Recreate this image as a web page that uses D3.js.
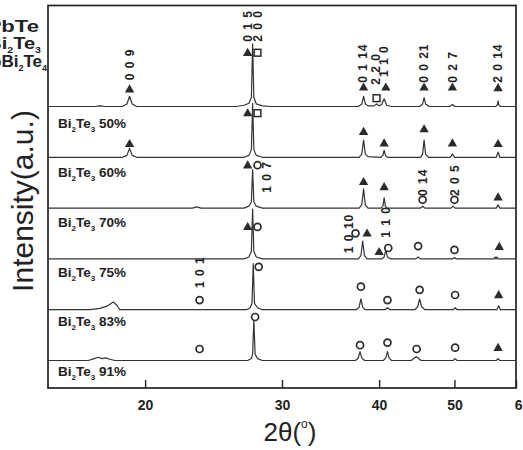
<!DOCTYPE html>
<html>
<head>
<meta charset="utf-8">
<script src="https://cdn.jsdelivr.net/npm/d3@7/dist/d3.min.js"></script>
<style>
  body { margin: 0; background: #fff; }
  svg { display: block; font-family: "Liberation Sans", Arial, sans-serif; }
</style>
</head>
<body>
<svg id="chart" width="523" height="450"></svg>
<script>
// ---- 2θ axis ----
const tickValues = [20, 30, 40, 50, 60];

// ---- sample captions, top to bottom (first pattern has no caption) ----
const sampleLabels = [null, "50%", "60%", "70%", "75%", "83%", "91%"];

// ---- phase legend: [prefix, "Te", Te subscript, Bi subscript] ----
const phaseNames = [["Pb", "Te", null, null], ["Bi", "Te", "3", "2"], ["PbBi", "Te", "4", "2"]];

// ---- diffraction patterns: [2θ (deg), intensity (a.u.)] ----
const pattern0 = [
  [15, 0], [17.2, 0], [17.5, 1], [17.8, 0],
  [18.7, 0], [18.95, 4], [19.1, 16], [19.25, 4], [19.5, 0],
  [26.2, 0], [26.8, 2], [27.2, 5], [27.4, 14], [27.5, 98], [27.6, 14], [27.8, 4], [28.3, 1], [29, 0],
  [37.6, 0], [38.0, 4], [38.2, 16], [38.4, 4], [38.7, 1], [39.4, 1], [39.7, 4], [40.0, 1],
  [40.3, 3], [40.6, 12], [40.9, 2], [41.5, 0],
  [45.1, 0], [45.5, 4], [45.7, 14], [45.9, 4], [46.4, 0],
  [49.3, 0], [49.7, 3], [50.1, 0],
  [56.5, 0], [56.8, 3], [56.9, 9], [57.0, 3], [57.3, 0], [60, 0]
];
const pattern50 = [
  [15, 0], [18.7, 0], [18.95, 3], [19.1, 14], [19.25, 3], [19.5, 0],
  [26.8, 0], [27.2, 3], [27.4, 12], [27.5, 84], [27.6, 12], [27.8, 3], [28.3, 0],
  [37.7, 0], [38.0, 5], [38.2, 27], [38.4, 5], [38.7, 1],
  [40.2, 0], [40.45, 3], [40.6, 11], [40.75, 3], [41.0, 0],
  [45.2, 0], [45.5, 5], [45.7, 27], [45.9, 5], [46.3, 0],
  [49.4, 0], [49.7, 5], [50.0, 0],
  [56.6, 0], [56.9, 8], [57.2, 0], [60, 0]
];
const pattern60 = [
  [15, 0], [23.0, 0], [23.3, 2], [23.6, 0],
  [26.8, 0], [27.2, 3], [27.4, 10], [27.5, 60], [27.6, 10], [27.8, 3], [28.3, 0],
  [37.7, 0], [38.0, 5], [38.2, 30], [38.4, 5], [38.7, 0],
  [40.2, 0], [40.45, 3], [40.6, 16], [40.75, 3], [41.0, 0],
  [45.2, 0], [45.5, 3], [45.8, 0],
  [49.5, 0], [49.8, 3], [50.1, 0],
  [56.6, 0], [56.9, 5], [57.2, 0], [60, 0]
];
const pattern70 = [
  [15, 0],
  [26.8, 0], [27.2, 3], [27.4, 12], [27.5, 78], [27.6, 12], [27.8, 3], [28.3, 0],
  [37.6, 0], [37.9, 5], [38.1, 28], [38.3, 5], [38.6, 0],
  [40.3, 0], [40.6, 3], [40.8, 14], [41.0, 3], [41.4, 0],
  [44.6, 0], [44.9, 3], [45.2, 0],
  [49.7, 0], [50.0, 2], [50.3, 0],
  [56.2, 0], [56.4, 3], [56.55, 0], [56.7, 3], [56.9, 0], [60, 0]
];
const pattern75 = [
  [15, 0], [17.0, 0], [17.5, 2], [17.9, 6], [18.2, 12], [18.4, 7], [18.55, 0],
  [27.0, 0], [27.3, 3], [27.45, 10], [27.55, 72], [27.65, 10], [27.9, 3], [28.3, 0],
  [37.4, 0], [37.7, 4], [37.9, 17], [38.1, 4], [38.4, 0],
  [40.7, 0], [41.0, 3], [41.3, 0],
  [44.5, 0], [44.85, 5], [45.1, 17], [45.35, 5], [45.8, 0],
  [49.8, 0], [50.1, 3], [50.4, 0],
  [56.7, 0], [57.0, 6], [57.3, 0], [60, 0]
];
const pattern83 = [
  [15, 0], [16.9, 0], [17.2, 3], [17.4, 5], [17.6, 3], [17.8, 4], [18.0, 2], [18.3, 0],
  [27.1, 0], [27.4, 3], [27.5, 10], [27.6, 64], [27.7, 10], [27.9, 3], [28.3, 0],
  [37.3, 0], [37.6, 4], [37.8, 14], [38.0, 4], [38.3, 0],
  [40.5, 0], [40.8, 4], [41.0, 14], [41.2, 4], [41.5, 0],
  [44.0, 0], [44.4, 4], [44.65, 6], [44.9, 4], [45.3, 0],
  [49.8, 0], [50.1, 3], [50.4, 0],
  [56.6, 0], [56.9, 3], [57.2, 0], [60, 0]
];
const patterns = [pattern0, pattern50, pattern60, pattern70, pattern75, pattern83];

// ---- phase markers: [2θ, intensity level, phase] ----
const TRI = "PbBi2Te4", CIR = "Bi2Te3", SQR = "PbTe";
const markers0 = [[19.1, 27, TRI], [27.1, 84, TRI], [27.9, 84, SQR], [38.2, 30, TRI], [39.7, 13, SQR],
  [40.8, 30, TRI], [45.7, 30, TRI], [49.7, 30, TRI], [56.9, 29, TRI]];
const markers50 = [[19.1, 21, TRI], [27.1, 69, TRI], [27.9, 69, SQR], [38.2, 40, TRI], [40.6, 22, TRI],
  [45.7, 44, TRI], [49.7, 22, TRI], [56.9, 21, TRI]];
const markers60 = [[27.1, 67, TRI], [27.9, 67, CIR], [38.2, 41, TRI], [40.6, 33, TRI], [45.5, 13, CIR],
  [50.0, 13, CIR], [56.9, 17, TRI]];
const markers70 = [[27.1, 50, TRI], [27.9, 50, CIR], [37.3, 40, CIR], [38.6, 40, TRI], [40.0, 11, TRI],
  [41.1, 17, CIR], [44.9, 20, CIR], [50.0, 14, CIR], [57.1, 19, TRI]];
const markers75 = [[23.5, 15, CIR], [28.0, 67, CIR], [37.9, 36, CIR], [41.0, 15, CIR], [45.1, 31, CIR],
  [50.1, 23, CIR], [57.0, 23, TRI]];
const markers83 = [[23.5, 18, CIR], [27.7, 68, CIR], [37.8, 24, CIR], [41.0, 28, CIR], [44.7, 18, CIR],
  [50.1, 20, CIR], [56.9, 20, TRI]];
const markers = [markers0, markers50, markers60, markers70, markers75, markers83];

// ---- Miller indices: [2θ, intensity level at text start, hkl] ----
const hkl0 = [[19.1, 41, "0 0 9"], [27.1, 101, "0 1 5"], [27.9, 101, "2 0 0"], [38.1, 37, "0 1 14"],
  [39.6, 34, "2 2 0"], [40.6, 46, "1 1 0"], [45.7, 37, "0 0 21"], [49.7, 37, "0 2 7"], [56.9, 37, "2 0 14"]];
const hkl60 = [[28.7, 24, "1 0 7"], [45.5, 19, "0 14"], [50.0, 19, "2 0 5"]];
const hkl70 = [[36.5, 9, "1 0 10"], [40.8, 33, "1 1 0"]];
const hkl75 = [[23.5, 34, "1 0 1"]];
const hkls = [hkl0, [], hkl60, hkl70, hkl75, []];

// ---- layout ----
const plot = { left: 48, right: 516, top: 5.5, bottom: 388 };
const ink = "#222";

const svg = d3.select("#chart");

const x = d3.scaleLog().domain([15, 60]).range([plot.left, plot.right]);
const baseline = d3.scaleLinear().domain([0, 5]).range([106.5, 360.5]);
const captionY = d3.scaleLinear().domain([1, 6]).range([127.5, 376]);
const yFor = i => d3.scaleLinear().domain([0, 100]).range([baseline(i), baseline(i) - 64]);

// frame
svg.append("rect")
  .attr("x", plot.left).attr("y", plot.top)
  .attr("width", plot.right - plot.left).attr("height", plot.bottom - plot.top)
  .attr("fill", "none").attr("stroke", ink).attr("stroke-width", 1.7);

// bottom axis with inward ticks
const axis = svg.append("g")
  .attr("transform", `translate(0,${plot.bottom})`)
  .call(d3.axisBottom(x).tickValues(tickValues).tickFormat(d3.format("d")).tickSize(-8).tickPadding(12));
axis.select(".domain").remove();
axis.selectAll(".tick line").attr("stroke", ink).attr("stroke-width", 1.4);
axis.selectAll(".tick text")
  .attr("fill", ink).attr("font-size", 14).attr("font-weight", "bold")
  .attr("font-family", "Liberation Sans, Arial, sans-serif");
axis.selectAll(".tick text").filter(d => d === 60).attr("dx", 6);

// patterns, clipped to the frame
svg.append("clipPath").attr("id", "plotClip")
  .append("rect").attr("x", plot.left).attr("y", plot.top)
  .attr("width", plot.right - plot.left).attr("height", plot.bottom - plot.top);

const traces = svg.append("g").attr("clip-path", "url(#plotClip)");
patterns.forEach((pts, i) => {
  const y = yFor(i);
  const line = d3.line().x(d => x(d[0])).y(d => y(d[1]));
  traces.append("path")
    .attr("d", line(pts))
    .attr("fill", "none").attr("stroke", "#333").attr("stroke-width", 1.2)
    .attr("stroke-linejoin", "round");
});

// phase markers
const tri = d3.symbol().type(d3.symbolTriangle).size(38);
markers.forEach((list, i) => {
  const y = yFor(i);
  const g = svg.append("g");
  list.forEach(([t, lvl, phase]) => {
    const cx = x(t), cy = y(lvl);
    if (phase === TRI) {
      g.append("path").attr("d", tri()).attr("transform", `translate(${cx},${cy + 0.5})`)
        .attr("fill", "#2b2b2b");
    } else if (phase === CIR) {
      g.append("circle").attr("cx", cx).attr("cy", cy).attr("r", 3.5)
        .attr("fill", "#fff").attr("stroke", "#2b2b2b").attr("stroke-width", 1.7);
    } else {
      g.append("rect").attr("x", cx - 3.4).attr("y", cy - 3.4).attr("width", 6.8).attr("height", 6.8)
        .attr("fill", "#fff").attr("stroke", "#2b2b2b").attr("stroke-width", 1.5);
    }
  });
});

// Miller index labels, rotated
hkls.forEach((list, i) => {
  const y = yFor(i);
  list.forEach(([t, lvl, txt]) => {
    svg.append("text")
      .attr("transform", `translate(${x(t)},${y(lvl)}) rotate(-90)`)
      .attr("dy", "0.36em")
      .attr("font-size", 12).attr("font-weight", "bold").attr("letter-spacing", 1)
      .attr("fill", ink)
      .text(txt);
  });
});

// sample captions with subscripts
sampleLabels.forEach((lab, i) => {
  if (!lab) return;
  const t = svg.append("text")
    .attr("x", 58).attr("y", captionY(i))
    .attr("font-size", 13.5).attr("font-weight", "bold").attr("fill", ink);
  t.append("tspan").text("Bi");
  t.append("tspan").attr("font-size", 8).attr("dy", 4).text("2");
  t.append("tspan").attr("dy", -4).text("Te");
  t.append("tspan").attr("font-size", 8).attr("dy", 4).text("3");
  t.append("tspan").attr("dy", -4).text(" " + lab);
});

// phase legend in the left margin (runs past the page edge)
const legendEnds = [39, 41, 47];
const legendY = [31.5, 48.5, 66.5];
const legendStretch = [1.3, 1.18, 1.0];
phaseNames.forEach((p, k) => {
  const t = svg.append("text")
    .attr("transform", `translate(${legendEnds[k]},${legendY[k]}) scale(${legendStretch[k]},1)`)
    .attr("text-anchor", "end")
    .attr("font-size", 17).attr("font-weight", "bold").attr("fill", ink);
  if (p[2] === null) {
    t.append("tspan").text(p[0] + p[1]);
  } else {
    t.append("tspan").text(p[0]);
    t.append("tspan").attr("font-size", 9).attr("dy", 4).text(p[3]);
    t.append("tspan").attr("dy", -4).text(p[1]);
    t.append("tspan").attr("font-size", 9).attr("dy", 4).text(p[2]);
  }
});

// axis titles
svg.append("text")
  .attr("transform", `translate(33,201) rotate(-90)`)
  .attr("text-anchor", "middle")
  .attr("font-size", 30).attr("fill", ink)
  .text("Intensity(a.u.)");

const xt = svg.append("text")
  .attr("x", 290).attr("y", 441)
  .attr("text-anchor", "middle")
  .attr("font-size", 26).attr("fill", ink);
xt.append("tspan").text("2θ(");
xt.append("tspan").attr("font-size", 12).attr("dy", -13).text("o");
xt.append("tspan").attr("dy", 13).text(")");
</script>
</body>
</html>
